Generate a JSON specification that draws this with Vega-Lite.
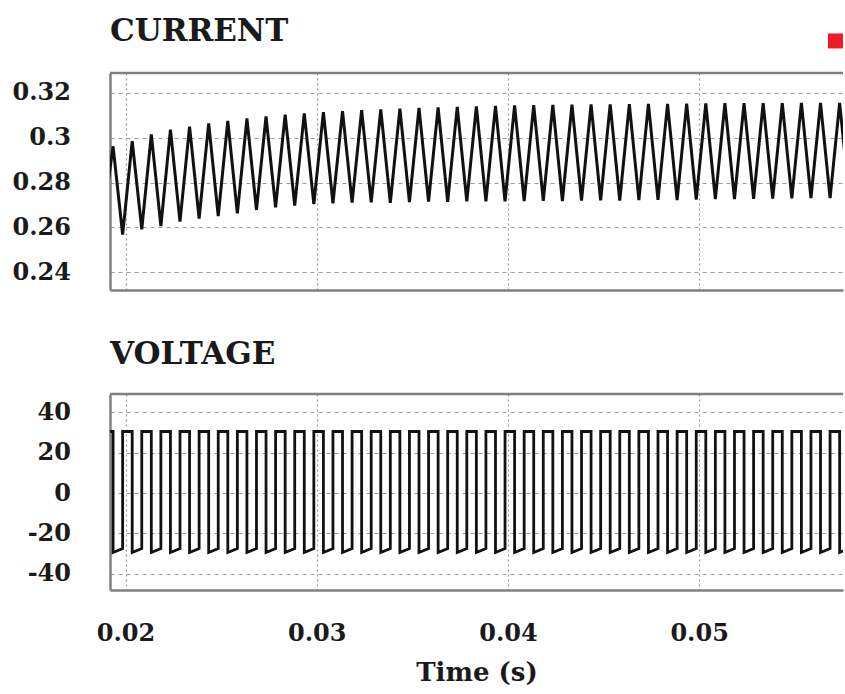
{
  "$schema": "https://vega.github.io/schema/vega-lite/v6.json",
  "background": "white",
  "padding": {"left": 12, "top": 16, "right": 0, "bottom": 0},
  "autosize": {"type": "pad"},
  "spacing": 104,
  "bounds": "flush",
  "config": {
    "view": {"stroke": null},
    "axis": {
      "labelFont": "DejaVu Serif", "labelFontWeight": "bold", "labelFontSize": 24, "labelColor": "#1a1a1a",
      "titleFont": "DejaVu Serif", "titleFontWeight": "bold", "titleFontSize": 26, "titleColor": "#1a1a1a",
      "domainColor": "#808080", "domainWidth": 2.5,
      "gridColor": "#9a9a9a", "gridWidth": 1.2,
      "ticks": false, "tickSize": 0, "labelOverlap": false, "labelFlush": false
    },
    "axisX": {"gridDash": [2, 3], "labelPadding": 31, "titlePadding": 14},
    "axisY": {"gridDash": [4, 4], "labelPadding": 39.5},
    "title": {"font": "DejaVu Serif", "fontWeight": "bold", "fontSize": 31, "color": "#1a1a1a", "anchor": "start", "frame": "group", "baseline": "alphabetic", "offset": 22}
  },
  "datasets": {
    "cur": [
      {"t":0.01885,"i":0.2650},{"t":0.01935,"i":0.2962},{"t":0.01985,"i":0.2568},{"t":0.02035,"i":0.2985},
      {"t":0.02085,"i":0.2592},{"t":0.02135,"i":0.3015},{"t":0.02185,"i":0.2606},{"t":0.02235,"i":0.3036},
      {"t":0.02285,"i":0.2626},{"t":0.02335,"i":0.3050},{"t":0.02385,"i":0.2640},{"t":0.02435,"i":0.3064},
      {"t":0.02485,"i":0.2651},{"t":0.02535,"i":0.3075},{"t":0.02585,"i":0.2663},{"t":0.02635,"i":0.3086},
      {"t":0.02685,"i":0.2678},{"t":0.02735,"i":0.3095},{"t":0.02785,"i":0.2690},{"t":0.02835,"i":0.3103},
      {"t":0.02885,"i":0.2698},{"t":0.02935,"i":0.3109},{"t":0.02985,"i":0.2704},{"t":0.03035,"i":0.3114},
      {"t":0.03085,"i":0.2708},{"t":0.03135,"i":0.3119},{"t":0.03185,"i":0.2711},{"t":0.03235,"i":0.3123},
      {"t":0.03285,"i":0.2712},{"t":0.03335,"i":0.3127},{"t":0.03385,"i":0.2710},{"t":0.03435,"i":0.3130},
      {"t":0.03485,"i":0.2713},{"t":0.03535,"i":0.3133},{"t":0.03585,"i":0.2715},{"t":0.03635,"i":0.3135},
      {"t":0.03685,"i":0.2714},{"t":0.03735,"i":0.3138},{"t":0.03785,"i":0.2716},{"t":0.03835,"i":0.3140},
      {"t":0.03885,"i":0.2717},{"t":0.03935,"i":0.3142},{"t":0.03985,"i":0.2716},{"t":0.04035,"i":0.3145},
      {"t":0.04085,"i":0.2718},{"t":0.04135,"i":0.3146},{"t":0.04185,"i":0.2719},{"t":0.04235,"i":0.3147},
      {"t":0.04285,"i":0.2718},{"t":0.04335,"i":0.3148},{"t":0.04385,"i":0.2720},{"t":0.04435,"i":0.3149},
      {"t":0.04485,"i":0.2721},{"t":0.04535,"i":0.3149},{"t":0.04585,"i":0.2720},{"t":0.04635,"i":0.3150},
      {"t":0.04685,"i":0.2722},{"t":0.04735,"i":0.3151},{"t":0.04785,"i":0.2723},{"t":0.04835,"i":0.3151},
      {"t":0.04885,"i":0.2722},{"t":0.04935,"i":0.3152},{"t":0.04985,"i":0.2724},{"t":0.05035,"i":0.3153},
      {"t":0.05085,"i":0.2726},{"t":0.05135,"i":0.3154},{"t":0.05185,"i":0.2727},{"t":0.05235,"i":0.3154},
      {"t":0.05285,"i":0.2728},{"t":0.05335,"i":0.3155},{"t":0.05385,"i":0.2729},{"t":0.05435,"i":0.3155},
      {"t":0.05485,"i":0.2730},{"t":0.05535,"i":0.3156},{"t":0.05585,"i":0.2731},{"t":0.05635,"i":0.3156},
      {"t":0.05685,"i":0.2731},{"t":0.05735,"i":0.3156},{"t":0.05785,"i":0.2732}
    ],
    "volt": [
      {"t":0.01885,"v":-27.5},{"t":0.01885,"v":30.5},{"t":0.01935,"v":30.5},{"t":0.01935,"v":-29.5},
      {"t":0.01985,"v":-27.5},{"t":0.01985,"v":30.5},{"t":0.02035,"v":30.5},{"t":0.02035,"v":-29.5},
      {"t":0.02085,"v":-27.5},{"t":0.02085,"v":30.5},{"t":0.02135,"v":30.5},{"t":0.02135,"v":-29.5},
      {"t":0.02185,"v":-27.5},{"t":0.02185,"v":30.5},{"t":0.02235,"v":30.5},{"t":0.02235,"v":-29.5},
      {"t":0.02285,"v":-27.5},{"t":0.02285,"v":30.5},{"t":0.02335,"v":30.5},{"t":0.02335,"v":-29.5},
      {"t":0.02385,"v":-27.5},{"t":0.02385,"v":30.5},{"t":0.02435,"v":30.5},{"t":0.02435,"v":-29.5},
      {"t":0.02485,"v":-27.5},{"t":0.02485,"v":30.5},{"t":0.02535,"v":30.5},{"t":0.02535,"v":-29.5},
      {"t":0.02585,"v":-27.5},{"t":0.02585,"v":30.5},{"t":0.02635,"v":30.5},{"t":0.02635,"v":-29.5},
      {"t":0.02685,"v":-27.5},{"t":0.02685,"v":30.5},{"t":0.02735,"v":30.5},{"t":0.02735,"v":-29.5},
      {"t":0.02785,"v":-27.5},{"t":0.02785,"v":30.5},{"t":0.02835,"v":30.5},{"t":0.02835,"v":-29.5},
      {"t":0.02885,"v":-27.5},{"t":0.02885,"v":30.5},{"t":0.02935,"v":30.5},{"t":0.02935,"v":-29.5},
      {"t":0.02985,"v":-27.5},{"t":0.02985,"v":30.5},{"t":0.03035,"v":30.5},{"t":0.03035,"v":-29.5},
      {"t":0.03085,"v":-27.5},{"t":0.03085,"v":30.5},{"t":0.03135,"v":30.5},{"t":0.03135,"v":-29.5},
      {"t":0.03185,"v":-27.5},{"t":0.03185,"v":30.5},{"t":0.03235,"v":30.5},{"t":0.03235,"v":-29.5},
      {"t":0.03285,"v":-27.5},{"t":0.03285,"v":30.5},{"t":0.03335,"v":30.5},{"t":0.03335,"v":-29.5},
      {"t":0.03385,"v":-27.5},{"t":0.03385,"v":30.5},{"t":0.03435,"v":30.5},{"t":0.03435,"v":-29.5},
      {"t":0.03485,"v":-27.5},{"t":0.03485,"v":30.5},{"t":0.03535,"v":30.5},{"t":0.03535,"v":-29.5},
      {"t":0.03585,"v":-27.5},{"t":0.03585,"v":30.5},{"t":0.03635,"v":30.5},{"t":0.03635,"v":-29.5},
      {"t":0.03685,"v":-27.5},{"t":0.03685,"v":30.5},{"t":0.03735,"v":30.5},{"t":0.03735,"v":-29.5},
      {"t":0.03785,"v":-27.5},{"t":0.03785,"v":30.5},{"t":0.03835,"v":30.5},{"t":0.03835,"v":-29.5},
      {"t":0.03885,"v":-27.5},{"t":0.03885,"v":30.5},{"t":0.03935,"v":30.5},{"t":0.03935,"v":-29.5},
      {"t":0.03985,"v":-27.5},{"t":0.03985,"v":30.5},{"t":0.04035,"v":30.5},{"t":0.04035,"v":-29.5},
      {"t":0.04085,"v":-27.5},{"t":0.04085,"v":30.5},{"t":0.04135,"v":30.5},{"t":0.04135,"v":-29.5},
      {"t":0.04185,"v":-27.5},{"t":0.04185,"v":30.5},{"t":0.04235,"v":30.5},{"t":0.04235,"v":-29.5},
      {"t":0.04285,"v":-27.5},{"t":0.04285,"v":30.5},{"t":0.04335,"v":30.5},{"t":0.04335,"v":-29.5},
      {"t":0.04385,"v":-27.5},{"t":0.04385,"v":30.5},{"t":0.04435,"v":30.5},{"t":0.04435,"v":-29.5},
      {"t":0.04485,"v":-27.5},{"t":0.04485,"v":30.5},{"t":0.04535,"v":30.5},{"t":0.04535,"v":-29.5},
      {"t":0.04585,"v":-27.5},{"t":0.04585,"v":30.5},{"t":0.04635,"v":30.5},{"t":0.04635,"v":-29.5},
      {"t":0.04685,"v":-27.5},{"t":0.04685,"v":30.5},{"t":0.04735,"v":30.5},{"t":0.04735,"v":-29.5},
      {"t":0.04785,"v":-27.5},{"t":0.04785,"v":30.5},{"t":0.04835,"v":30.5},{"t":0.04835,"v":-29.5},
      {"t":0.04885,"v":-27.5},{"t":0.04885,"v":30.5},{"t":0.04935,"v":30.5},{"t":0.04935,"v":-29.5},
      {"t":0.04985,"v":-27.5},{"t":0.04985,"v":30.5},{"t":0.05035,"v":30.5},{"t":0.05035,"v":-29.5},
      {"t":0.05085,"v":-27.5},{"t":0.05085,"v":30.5},{"t":0.05135,"v":30.5},{"t":0.05135,"v":-29.5},
      {"t":0.05185,"v":-27.5},{"t":0.05185,"v":30.5},{"t":0.05235,"v":30.5},{"t":0.05235,"v":-29.5},
      {"t":0.05285,"v":-27.5},{"t":0.05285,"v":30.5},{"t":0.05335,"v":30.5},{"t":0.05335,"v":-29.5},
      {"t":0.05385,"v":-27.5},{"t":0.05385,"v":30.5},{"t":0.05435,"v":30.5},{"t":0.05435,"v":-29.5},
      {"t":0.05485,"v":-27.5},{"t":0.05485,"v":30.5},{"t":0.05535,"v":30.5},{"t":0.05535,"v":-29.5},
      {"t":0.05585,"v":-27.5},{"t":0.05585,"v":30.5},{"t":0.05635,"v":30.5},{"t":0.05635,"v":-29.5},
      {"t":0.05685,"v":-27.5},{"t":0.05685,"v":30.5},{"t":0.05735,"v":30.5},{"t":0.05735,"v":-29.5},
      {"t":0.05785,"v":-27.5},{"t":0.05785,"v":30.5}
    ]
  },
  "vconcat": [
    {
      "width": 733,
      "height": 217,
      "title": {"text": "CURRENT", "dy": 37},
      "layer": [
        {
          "data": {"name": "cur"},
          "mark": {"type": "line", "color": "#111111", "strokeWidth": 3, "clip": true},
          "encoding": {
            "x": {"field": "t", "type": "quantitative", "title": null,
              "scale": {"domain": [0.019189, 0.057526], "nice": false, "zero": false},
              "axis": {"values": [0.02, 0.03, 0.04, 0.05], "labels": false, "grid": true, "domain": true}},
            "y": {"field": "i", "type": "quantitative", "title": null,
              "scale": {"domain": [0.2321, 0.3289], "nice": false, "zero": false},
              "axis": {"values": [0.24, 0.26, 0.28, 0.3, 0.32], "labelExpr": "toString(datum.value)", "grid": true, "domain": true}},
            "order": {"value": null}
          }
        },
        {
          "data": {"values": [{}]},
          "mark": {"type": "rule", "color": "#808080", "strokeWidth": 2.5},
          "encoding": {"y": {"datum": 0.3289}}
        },
        {
          "data": {"values": [{"t": 0.057134, "i": 0.3432}]},
          "mark": {"type": "point", "shape": "square", "filled": true, "size": 225, "color": "#ee1c25", "opacity": 1},
          "encoding": {
            "x": {"field": "t", "type": "quantitative", "title": null},
            "y": {"field": "i", "type": "quantitative", "title": null}
          }
        }
      ]
    },
    {
      "width": 733,
      "height": 196,
      "title": {"text": "VOLTAGE"},
      "layer": [
        {
          "data": {"name": "volt"},
          "mark": {"type": "line", "color": "#111111", "strokeWidth": 2.8, "clip": true},
          "encoding": {
            "x": {"field": "t", "type": "quantitative", "title": "Time (s)",
              "scale": {"domain": [0.019189, 0.057526], "nice": false, "zero": false},
              "axis": {"values": [0.02, 0.03, 0.04, 0.05], "labelExpr": "toString(datum.value)", "grid": true, "domain": true}},
            "y": {"field": "v", "type": "quantitative", "title": null,
              "scale": {"domain": [-48.1, 49.1], "nice": false, "zero": false},
              "axis": {"values": [-40, -20, 0, 20, 40], "labelExpr": "toString(datum.value)", "grid": true, "domain": true}},
            "order": {"value": null}
          }
        },
        {
          "data": {"values": [{}]},
          "mark": {"type": "rule", "color": "#808080", "strokeWidth": 2.5},
          "encoding": {"y": {"datum": 49.1}}
        }
      ]
    }
  ]
}
